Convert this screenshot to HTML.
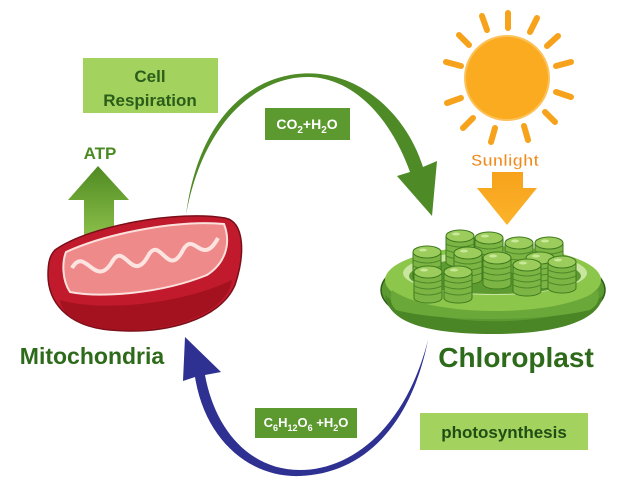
<!DOCTYPE html>
<html><head><meta charset="utf-8"><style>
html,body{margin:0;padding:0;background:#fff;}
svg{display:block;}
text{font-family:"Liberation Sans",sans-serif;font-weight:bold;}
</style></head><body>
<svg width="626" height="486" viewBox="0 0 626 486" xmlns="http://www.w3.org/2000/svg">
<defs>
<linearGradient id="ga" x1="0" y1="0" x2="0" y2="1"><stop offset="0" stop-color="#4f8a22"/><stop offset="1" stop-color="#8cc04a"/></linearGradient>
<linearGradient id="gs" x1="0" y1="0" x2="0" y2="1"><stop offset="0" stop-color="#f7a21b"/><stop offset="1" stop-color="#fbb32a"/></linearGradient>
<g id="st">
<rect x="-14" y="0" width="28" height="26" fill="#7cb544" stroke="#3f7a1f" stroke-width="1"/>
<ellipse cx="0" cy="26" rx="14" ry="5" fill="#7cb544" stroke="#3f7a1f" stroke-width="1"/>
<rect x="-13.5" y="0" width="27" height="26" fill="#7cb544"/>
<path d="M-14,8 Q0,14 14,8 M-14,14 Q0,20 14,14 M-14,20 Q0,26 14,20" fill="none" stroke="#4f8a2a" stroke-width="1"/>
<ellipse cx="0" cy="0" rx="14" ry="6" fill="#9ccd5c" stroke="#3f7a1f" stroke-width="1"/>
<ellipse cx="-4" cy="-2" rx="4" ry="1.5" fill="#c8e89a"/>
</g>
</defs>
<!-- green arc arrow -->
<path d="M186,215 C205,110 270,70 320,78 C365,86 395,130 410,172 L397,176 L432,216 L437,161 L423,167 C408,120 370,80 320,74 C265,68 200,105 186,215 Z" fill="#4e8a26"/>
<!-- blue arc arrow -->
<path d="M428,340 C405,430 350,470 300,470 C250,470 215,430 205,375 L221,372 L185,337 L183,381 L195,377 C205,440 250,478 300,476 C360,474 410,430 428,340 Z" fill="#2e3192"/>
<!-- Cell Respiration -->
<rect x="83" y="58" width="135" height="55" fill="#a4d25e"/>
<text x="150" y="82" font-size="17" fill="#2a5d1a" text-anchor="middle">Cell</text>
<text x="150" y="106" font-size="17" fill="#2a5d1a" text-anchor="middle">Respiration</text>
<!-- CO2+H2O -->
<rect x="265" y="108" width="85" height="32" fill="#5c9a30"/>
<text x="307" y="129" font-size="14" fill="#fff" text-anchor="middle">CO<tspan font-size="10" dy="4">2</tspan><tspan dy="-4">+H</tspan><tspan font-size="10" dy="4">2</tspan><tspan dy="-4">O</tspan></text>
<!-- ATP -->
<text x="100" y="159" font-size="17" fill="#4a8a22" text-anchor="middle">ATP</text>
<path d="M98,166 L129,200 L114,200 L114,238 L84,238 L84,200 L68,200 Z" fill="url(#ga)"/>
<!-- mitochondria -->
<path d="M55,250 C90,225 180,210 225,218 C245,222 245,255 235,285 C220,320 165,335 110,330 C65,326 48,300 48,275 C48,262 50,255 55,250 Z" fill="#c01a2c" stroke="#7a0f1a" stroke-width="1.5"/>
<path d="M66,252 C110,232 180,220 224,224 C232,245 224,264 207,275 C160,294 100,298 70,292 C62,280 62,262 66,252 Z" fill="#ee8a8a" stroke="#fbe0dc" stroke-width="2"/>
<path d="M72,268 C85,245 95,290 112,262 C124,240 132,285 148,256 C160,234 168,280 183,250 C194,230 202,268 218,238" fill="none" stroke="#fde4e0" stroke-width="4"/>
<path d="M60,300 C100,312 180,305 232,280 C228,310 180,332 120,330 C80,328 62,316 60,300 Z" fill="#a4121f"/>
<text x="92" y="364" font-size="23" fill="#2d6a1a" text-anchor="middle">Mitochondria</text>
<!-- sun -->
<g stroke="#f7a21b" stroke-width="6" stroke-linecap="round">
<line x1="508" y1="28" x2="508" y2="13"/><line x1="530" y1="32" x2="537" y2="18"/><line x1="547" y1="46" x2="558" y2="36"/><line x1="556" y1="66" x2="571" y2="62"/><line x1="556" y1="92" x2="571" y2="97"/><line x1="545" y1="112" x2="555" y2="122"/><line x1="524" y1="126" x2="528" y2="140"/><line x1="495" y1="128" x2="491" y2="142"/><line x1="473" y1="118" x2="463" y2="128"/><line x1="461" y1="98" x2="447" y2="103"/><line x1="461" y1="66" x2="446" y2="62"/><line x1="469" y1="45" x2="459" y2="35"/><line x1="487" y1="30" x2="482" y2="16"/>
</g>
<circle cx="507" cy="78" r="42" fill="#fbab20" stroke="#fcc25a" stroke-width="2"/>
<text x="505" y="166" font-size="17" fill="#f08a1c" stroke="#fff" stroke-width="0.6" text-anchor="middle">Sunlight</text>
<path d="M492,172 L523,172 L523,188 L537,188 L507,225 L477,188 L492,188 Z" fill="url(#gs)"/>
<!-- chloroplast -->
<ellipse cx="493" cy="290" rx="112" ry="42" fill="#5a9a30" stroke="#2f5d18" stroke-width="1.5"/>
<ellipse cx="493" cy="280" rx="108" ry="34" fill="#8cc64a"/>
<ellipse cx="495" cy="273" rx="92" ry="22" fill="#c9e6a0"/>
<ellipse cx="495" cy="276" rx="86" ry="18" fill="#5d9b31"/>
<use href="#st" x="460" y="236"/><use href="#st" x="489" y="238"/><use href="#st" x="519" y="243"/><use href="#st" x="549" y="243"/>
<use href="#st" x="427" y="252"/><use href="#st" x="468" y="253"/><use href="#st" x="540" y="258"/>
<use href="#st" x="497" y="258"/><use href="#st" x="562" y="262"/>
<use href="#st" x="428" y="272"/><use href="#st" x="458" y="272"/><use href="#st" x="527" y="265"/>
<path d="M385,295 C420,330 570,330 603,295 C600,320 560,334 493,334 C420,334 388,320 385,295 Z" fill="#4a8526"/>
<path d="M392,290 C430,318 560,318 598,290 C600,300 598,305 590,310 C540,322 440,322 396,310 C390,304 390,298 392,290 Z" fill="#6aa83a"/>
<text x="516" y="367" font-size="28" fill="#2d6a1a" text-anchor="middle">Chloroplast</text>
<!-- photosynthesis -->
<rect x="420" y="413" width="168" height="37" fill="#a4d25e"/>
<text x="504" y="438" font-size="17" fill="#1f4d14" text-anchor="middle">photosynthesis</text>
<!-- C6H12O6 -->
<rect x="255" y="408" width="102" height="30" fill="#5c9a30"/>
<text x="306" y="427" font-size="13" fill="#fff" text-anchor="middle">C<tspan font-size="9" dy="4">6</tspan><tspan dy="-4">H</tspan><tspan font-size="9" dy="4">12</tspan><tspan dy="-4">O</tspan><tspan font-size="9" dy="4">6</tspan><tspan dy="-4"> +H</tspan><tspan font-size="9" dy="4">2</tspan><tspan dy="-4">O</tspan></text>
</svg>
</body></html>
